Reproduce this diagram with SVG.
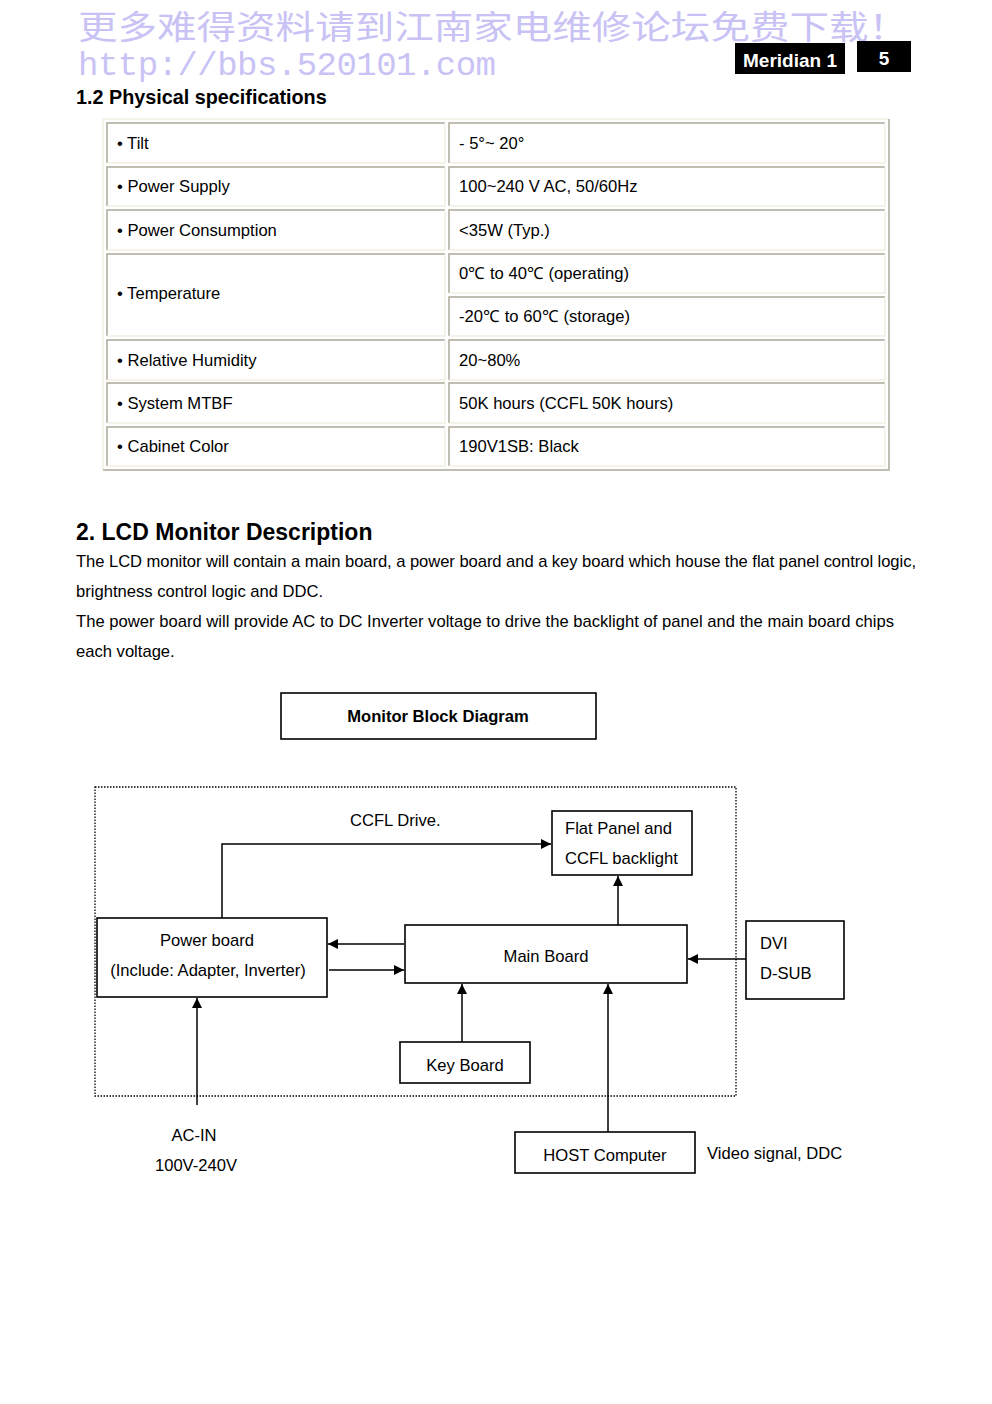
<svg xmlns="http://www.w3.org/2000/svg" width="992" height="1404" viewBox="0 0 992 1404">
<defs>
<marker id="ah" markerWidth="10" markerHeight="10" refX="10" refY="5" orient="auto" markerUnits="userSpaceOnUse">
<path d="M0,0 L10,5 L0,10 z" fill="#000"/>
</marker>
<style>
text{font-family:"Liberation Sans",Arial,sans-serif;fill:#000;}
.t{font-size:16.6px;}
.wm{fill:#c9c2f5;}
.tl{stroke:#aca899;stroke-width:1.5;fill:none;}
.br{stroke:#f1efe2;stroke-width:1.5;fill:none;}
.box{fill:#fff;stroke:#000;stroke-width:1.6;}
.ln{stroke:#000;stroke-width:1.5;fill:none;}
</style>
</defs>
<rect width="992" height="1404" fill="#fff"/>
<g id="header">
<text class="wm" x="78" y="38.5" style="font-family:'Noto Sans CJK SC',sans-serif;font-size:33px;" textLength="830" lengthAdjust="spacingAndGlyphs">更多难得资料请到江南家电维修论坛免费下载！</text>
<text class="wm" x="78" y="75" style="font-family:'Liberation Mono',monospace;font-size:34px;" textLength="418">http://bbs.520101.com</text>
<rect x="735" y="43" width="110" height="31" fill="#000"/>
<text x="790" y="67" text-anchor="middle" style="font-size:19px;font-weight:bold;fill:#fff;">Meridian 1</text>
<rect x="857" y="41" width="54" height="31" fill="#000"/>
<text x="884" y="65" text-anchor="middle" style="font-size:19px;font-weight:bold;fill:#fff;">5</text>
<text x="76" y="104" style="font-size:19.8px;font-weight:bold;">1.2 Physical specifications</text>
</g>
<g id="table">
<path d="M103,470 L103,119 L889,119" stroke="#f1efe2" stroke-width="1.5" fill="none"/>
<path d="M103,470 L889,470 L889,119" stroke="#aca899" stroke-width="1.5" fill="none"/>
<g id="cells">
<path class="tl" d="M107,163 L107,123 L445,123"/><path class="br" d="M107,163 L445,163 L445,123"/>
<path class="tl" d="M449,163 L449,123 L885,123"/><path class="br" d="M449,163 L885,163 L885,123"/>
<path class="tl" d="M107,206 L107,167 L445,167"/><path class="br" d="M107,206 L445,206 L445,167"/>
<path class="tl" d="M449,206 L449,167 L885,167"/><path class="br" d="M449,206 L885,206 L885,167"/>
<path class="tl" d="M107,250 L107,210 L445,210"/><path class="br" d="M107,250 L445,250 L445,210"/>
<path class="tl" d="M449,250 L449,210 L885,210"/><path class="br" d="M449,250 L885,250 L885,210"/>
<path class="tl" d="M107,336 L107,254 L445,254"/><path class="br" d="M107,336 L445,336 L445,254"/>
<path class="tl" d="M449,293 L449,254 L885,254"/><path class="br" d="M449,293 L885,293 L885,254"/>
<path class="tl" d="M449,336 L449,297 L885,297"/><path class="br" d="M449,336 L885,336 L885,297"/>
<path class="tl" d="M107,380 L107,340 L445,340"/><path class="br" d="M107,380 L445,380 L445,340"/>
<path class="tl" d="M449,380 L449,340 L885,340"/><path class="br" d="M449,380 L885,380 L885,340"/>
<path class="tl" d="M107,423 L107,383 L445,383"/><path class="br" d="M107,423 L445,423 L445,383"/>
<path class="tl" d="M449,423 L449,383 L885,383"/><path class="br" d="M449,423 L885,423 L885,383"/>
<path class="tl" d="M107,466 L107,427 L445,427"/><path class="br" d="M107,466 L445,466 L445,427"/>
<path class="tl" d="M449,466 L449,427 L885,427"/><path class="br" d="M449,466 L885,466 L885,427"/>
</g>
<g id="celltext">
<text class="t" x="117" y="149">• Tilt</text>
<text class="t" x="459" y="149">- 5°~ 20°</text>
<text class="t" x="117" y="192">• Power Supply</text>
<text class="t" x="459" y="192">100~240 V AC, 50/60Hz</text>
<text class="t" x="117" y="236">• Power Consumption</text>
<text class="t" x="459" y="236">&lt;35W (Typ.)</text>
<text class="t" x="117" y="299">• Temperature</text>
<text class="t" x="459" y="279" textLength="170">0℃ to 40℃ (operating)</text>
<text class="t" x="459" y="322" textLength="171">-20℃ to 60℃ (storage)</text>
<text class="t" x="117" y="366">• Relative Humidity</text>
<text class="t" x="459" y="366">20~80%</text>
<text class="t" x="117" y="409">• System MTBF</text>
<text class="t" x="459" y="409">50K hours (CCFL 50K hours)</text>
<text class="t" x="117" y="452">• Cabinet Color</text>
<text class="t" x="459" y="452">190V1SB: Black</text>
</g>
</g>
<g id="section2">
<text x="76" y="540" style="font-size:23px;font-weight:bold;">2. LCD Monitor Description</text>
<text class="t" x="76" y="567" textLength="840">The LCD monitor will contain a main board, a power board and a key board which house the flat panel control logic,</text>
<text class="t" x="76" y="597">brightness control logic and DDC.</text>
<text class="t" x="76" y="627" textLength="818">The power board will provide AC to DC Inverter voltage to drive the backlight of panel and the main board chips</text>
<text class="t" x="76" y="657">each voltage.</text>
</g>
<g id="title">
<rect class="box" x="281" y="693" width="315" height="46" stroke-width="1.3"/>
<text x="438" y="722" text-anchor="middle" style="font-size:16.6px;font-weight:bold;">Monitor Block Diagram</text>
</g>
<g id="enclosure">
<rect x="95" y="787" width="641" height="309" fill="none" stroke="#000" stroke-width="1.3" stroke-dasharray="1.5,1.5"/>
</g>
<g id="connectors">
<path class="ln" d="M222,918 L222,844 L551,844" marker-end="url(#ah)"/>
<path class="ln" d="M618,925 L618,876" marker-end="url(#ah)"/>
<path class="ln" d="M404,944 L328,944" marker-end="url(#ah)"/>
<path class="ln" d="M329,970 L404,970" marker-end="url(#ah)"/>
<path class="ln" d="M462,1042 L462,984" marker-end="url(#ah)"/>
<path class="ln" d="M608,1132 L608,984" marker-end="url(#ah)"/>
<path class="ln" d="M746,959 L688,959" marker-end="url(#ah)"/>
<path class="ln" d="M197,1105 L197,998" marker-end="url(#ah)"/>
</g>
<g id="power">
<rect class="box" x="97" y="918" width="230" height="79"/>
<text class="t" x="207" y="946" text-anchor="middle">Power board</text>
<text class="t" x="208" y="976" text-anchor="middle">(Include: Adapter, Inverter)</text>
</g>
<g id="main">
<rect class="box" x="405" y="925" width="282" height="58"/>
<text class="t" x="546" y="962" text-anchor="middle">Main Board</text>
</g>
<g id="flat">
<rect class="box" x="552" y="811" width="140" height="64"/>
<text class="t" x="565" y="834">Flat Panel and</text>
<text class="t" x="565" y="864">CCFL backlight</text>
</g>
<g id="key">
<rect class="box" x="400" y="1042" width="130" height="41"/>
<text class="t" x="465" y="1071" text-anchor="middle">Key Board</text>
</g>
<g id="dvi">
<rect class="box" x="746" y="921" width="98" height="78"/>
<text class="t" x="760" y="949">DVI</text>
<text class="t" x="760" y="979">D-SUB</text>
</g>
<g id="host">
<rect class="box" x="515" y="1132" width="180" height="41"/>
<text class="t" x="605" y="1161" text-anchor="middle">HOST Computer</text>
</g>
<g id="labels">
<text class="t" x="350" y="826">CCFL Drive.</text>
<text class="t" x="194" y="1141" text-anchor="middle">AC-IN</text>
<text class="t" x="196" y="1171" text-anchor="middle">100V-240V</text>
<text class="t" x="707" y="1159">Video signal, DDC</text>
</g>
</svg>
